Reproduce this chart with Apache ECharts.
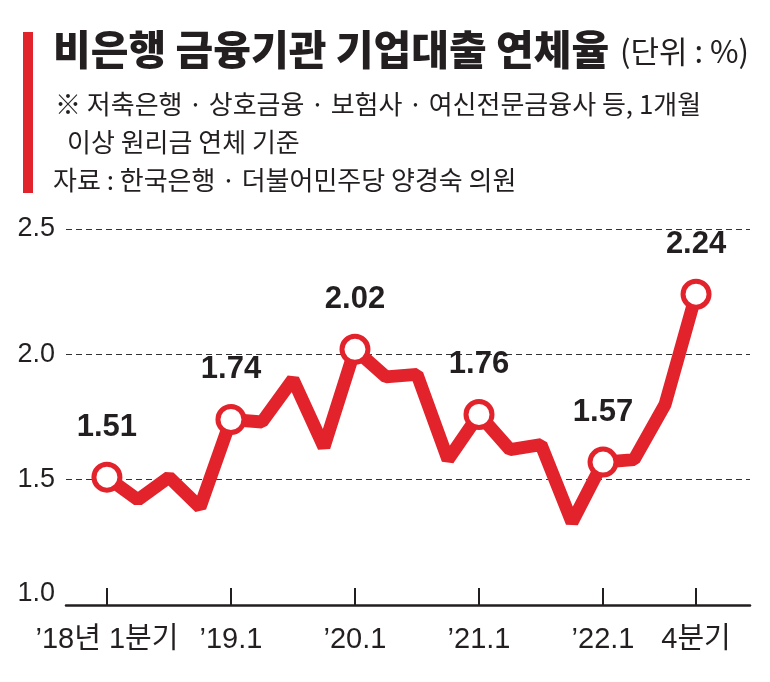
<!DOCTYPE html>
<html>
<head>
<meta charset="utf-8">
<script src="https://cdn.jsdelivr.net/npm/echarts@6/dist/echarts.min.js"></script>
<style>
html,body{margin:0;padding:0;background:#fff;}
#chart{width:770px;height:682px;}
</style>
</head>
<body>
<div id="chart"></div>
<script>
// Quarterly delinquency rate (%) 2018 Q1 .. 2022 Q4
const quarters = ['18Q1','18Q2','18Q3','18Q4','19Q1','19Q2','19Q3','19Q4','20Q1','20Q2','20Q3','20Q4','21Q1','21Q2','21Q3','21Q4','22Q1','22Q2','22Q3','22Q4'];
const rates = [1.51,1.42,1.51,1.39,1.74,1.73,1.90,1.63,2.02,1.91,1.92,1.58,1.76,1.62,1.64,1.33,1.57,1.58,1.80,2.24];
const markedIdx = [0,4,8,12,16,19];
const tickLabels = ['’18년 1분기','’19.1','’20.1','’21.1','’22.1','4분기'];

const RED = '#e3232c';
const INK = '#231f20';
const LAT = "'Liberation Sans','Noto Sans CJK KR',sans-serif";
const KR = "'Noto Sans CJK KR','Noto Sans',sans-serif";

const seriesData = rates.map((v, i) => {
  const marked = markedIdx.indexOf(i) >= 0;
  return {
    value: [i, v],
    symbol: marked ? 'circle' : 'none',
    symbolSize: marked ? 26 : 0,
    label: { show: marked }
  };
});

const chart = echarts.init(document.getElementById('chart'));
chart.setOption({
  backgroundColor: '#fff',
  animation: false,
  title: [
    { text: '비은행 금융기관 기업대출 연체율', left: 48, top: 24,
      textStyle: { fontFamily: KR, fontSize: 41, fontWeight: 900, color: INK } },
    { text: '(단위 : %)', left: 615, top: 31,
      textStyle: { fontFamily: KR, fontSize: 31, fontWeight: 'normal', color: INK } },
    { text: '※ 저축은행 · 상호금융 · 보험사 · 여신전문금융사 등, 1개월', left: 50, top: 86,
      textStyle: { fontFamily: KR, fontSize: 26, fontWeight: 'normal', color: INK } },
    { text: '이상 원리금 연체 기준', left: 62, top: 124,
      textStyle: { fontFamily: KR, fontSize: 26, fontWeight: 'normal', color: INK } },
    { text: '자료 : 한국은행 · 더불어민주당 양경숙 의원', left: 48, top: 162,
      textStyle: { fontFamily: KR, fontSize: 26, fontWeight: 'normal', color: INK } }
  ],
  graphic: [
    { type: 'rect', left: 23, top: 32, shape: { width: 10, height: 161 }, style: { fill: RED } }
  ],
  grid: { left: 66, right: 20, top: 229, bottom: 77, containLabel: false },
  xAxis: {
    type: 'value',
    min: -1.32, max: 20.74,
    splitLine: { show: false },
    axisLine: { show: true, lineStyle: { color: INK, width: 2.5 } },
    axisTick: { show: true, inside: true, length: 17, customValues: markedIdx,
      lineStyle: { color: INK, width: 2 } },
    axisLabel: {
      show: true, customValues: markedIdx, margin: 20,
      fontFamily: LAT, fontSize: 29, color: INK,
      formatter: function (v) {
        const k = markedIdx.indexOf(Math.round(v));
        return k >= 0 ? tickLabels[k] : '';
      }
    }
  },
  yAxis: {
    type: 'value', min: 1.0, max: 2.5, interval: 0.5,
    axisLine: { show: false }, axisTick: { show: false },
    splitLine: { show: true, lineStyle: { color: '#333', width: 1, type: [6, 4] } },
    axisLabel: {
      margin: 11, color: INK,
      formatter: function (v) {
        return v === 1 ? '{b|' + v.toFixed(1) + '}' : '{a|' + v.toFixed(1) + '}';
      },
      rich: {
        a: { fontFamily: LAT, fontSize: 27, color: INK },
        b: { fontFamily: LAT, fontSize: 27, color: INK, padding: [0, 0, 22, 0] }
      }
    }
  },
  series: [{
    type: 'line',
    data: seriesData,
    showSymbol: true,
    lineStyle: { color: RED, width: 13 },
    itemStyle: { color: '#fff', borderColor: RED, borderWidth: 5 },
    label: {
      position: 'top', distance: 19,
      fontFamily: LAT, fontSize: 31, fontWeight: 'bold', color: INK,
      formatter: function (p) { return p.value[1].toFixed(2); }
    },
    z: 3
  }]
});
</script>
</body>
</html>
